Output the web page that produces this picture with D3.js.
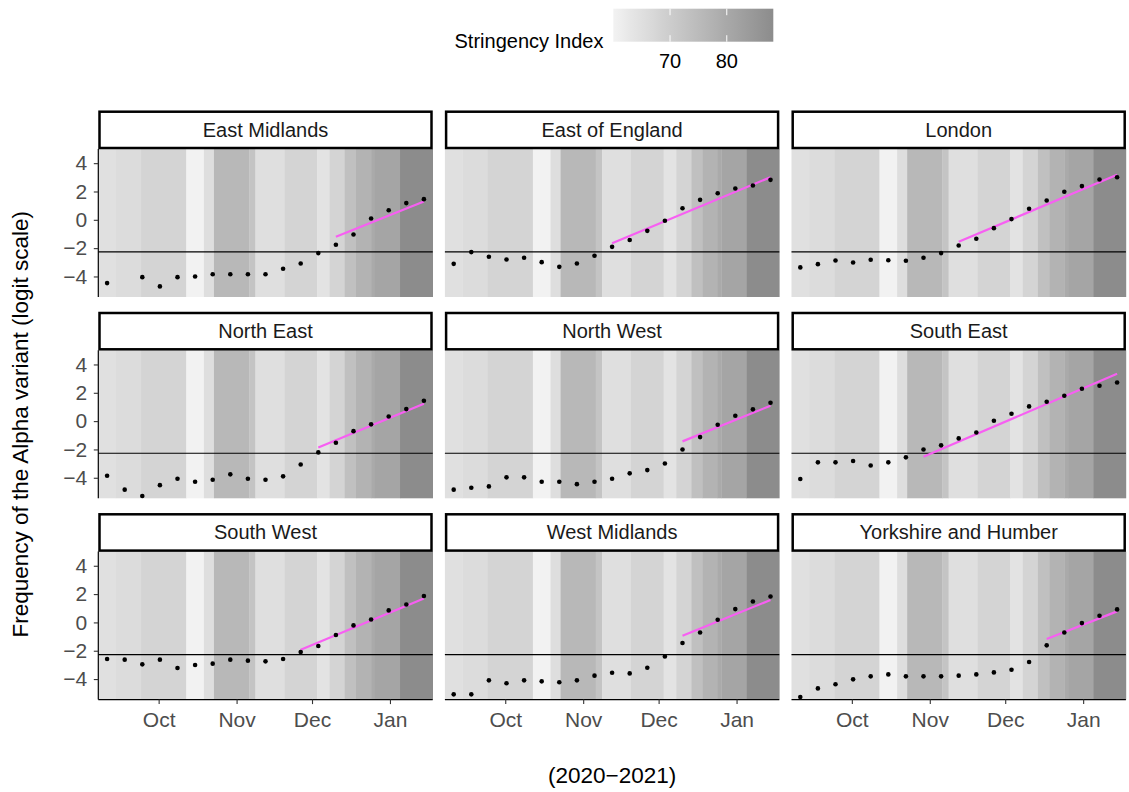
<!DOCTYPE html>
<html>
<head>
<meta charset="utf-8">
<script src="https://cdn.jsdelivr.net/npm/d3@7"></script>
<style>
  html, body { margin: 0; padding: 0; background: #ffffff; }
  svg { display: block; font-family: "Liberation Sans", Arial, sans-serif; }
</style>
</head>
<body>
<svg id="chart" width="1129" height="792"></svg>
<script>
// ---- data ----------------------------------------------------------------
const regions = [
  "East Midlands", "East of England", "London",
  "North East", "North West", "South East",
  "South West", "West Midlands", "Yorkshire and Humber"
];

// start of each sampling week (points sit at the middle of the week)
const weekStarts = [
  "2020-09-07", "2020-09-14", "2020-09-21", "2020-09-28", "2020-10-05",
  "2020-10-12", "2020-10-19", "2020-10-26", "2020-11-02", "2020-11-09",
  "2020-11-16", "2020-11-23", "2020-11-30", "2020-12-07", "2020-12-14",
  "2020-12-21", "2020-12-28", "2021-01-04", "2021-01-11"
];
const periodEnd = "2021-01-18";

// weekly frequency of the Alpha variant, logit scale (null = no sample)
const eastMidlands   = [-4.47, null, -4.05, -4.70, -4.05, -4.00, -3.84, -3.84, -3.84, -3.84, -3.46, -3.08, -2.35, -1.76, -1.04, 0.09, 0.68, 1.18, 1.46];
const eastOfEngland  = [-3.11, -2.28, -2.61, -2.80, -2.68, -2.99, -3.32, -3.08, -2.54, -1.91, -1.43, -0.78, -0.07, 0.82, 1.41, 1.88, 2.21, 2.42, 2.82];
const london         = [-3.36, -3.13, -2.87, -3.01, -2.82, -2.85, -2.89, -2.68, -2.35, -1.81, -1.34, -0.59, 0.05, 0.78, 1.36, 1.98, 2.38, 2.85, 3.01];
const northEast      = [-3.86, -4.84, -5.29, -4.52, -4.07, -4.28, -4.14, -3.76, -4.07, -4.14, -3.90, -3.06, -2.21, -1.53, -0.71, -0.23, 0.33, 0.85, 1.44];
const northWest      = [-4.84, -4.70, -4.61, -3.97, -3.97, -4.28, -4.28, -4.45, -4.28, -4.07, -3.69, -3.46, -2.99, -2.00, -1.13, -0.26, 0.38, 0.83, 1.30];
const southEast      = [-4.09, -2.91, -2.91, -2.82, -3.13, -2.91, -2.56, -2.00, -1.71, -1.22, -0.80, 0.03, 0.52, 1.04, 1.37, 1.79, 2.28, 2.50, 2.73];
const southWest      = [-2.58, -2.63, -2.96, -2.63, -3.22, -3.01, -2.91, -2.63, -2.70, -2.75, -2.58, -2.09, -1.67, -0.89, -0.21, 0.21, 0.85, 1.27, 1.86];
const westMidlands   = [-5.08, -5.08, -4.09, -4.30, -4.09, -4.16, -4.23, -4.09, -3.76, -3.55, -3.60, -3.20, -2.40, -1.45, -0.71, 0.19, 0.94, 1.48, 1.83];
const yorkshire      = [-5.27, -4.66, -4.37, -4.02, -3.81, -3.67, -3.81, -3.81, -3.81, -3.76, -3.67, -3.53, -3.34, -2.80, -1.62, -0.71, -0.05, 0.47, 0.92];
const regionValues = [eastMidlands, eastOfEngland, london, northEast, northWest, southEast, southWest, westMidlands, yorkshire];

// fitted growth line per region: first week of the fit, value there and at the last week
const fitStartWeek  = ["2020-12-07", "2020-11-09", "2020-11-09", "2020-11-30", "2020-12-07", "2020-10-26", "2020-11-23", "2020-12-07", "2020-12-14"];
const fitStartValue = [-1.20, -1.65, -1.55, -1.86, -1.43, -2.51, -1.93, -0.94, -1.17];
const fitEndValue   = [ 1.29,  3.01,  3.18,  1.23,  1.09,  3.34,  1.69,  1.58,  0.78];

// reference frequency (logit scale)
const thresholdLogit = -2.27;

// national stringency index, piecewise constant from each start date
const stringencyStart = [
  "2020-09-07", "2020-09-14", "2020-09-24", "2020-10-12", "2020-10-19",
  "2020-10-23", "2020-11-06", "2020-11-08T12:00", "2020-11-20", "2020-12-03",
  "2020-12-08", "2020-12-14", "2020-12-18T12:00", "2020-12-24T12:00", "2020-12-26",
  "2021-01-05"
];
const stringencyIndex = [64.8, 65.8, 68.0, 60.0, 65.3, 75.6, 72.3, 65.0, 68.0, 64.0, 68.0, 73.5, 77.1, 79.6, 81.0, 88.2];

const yTicks = [-4, -2, 0, 2, 4];
const xTickDates = ["2020-10-01", "2020-11-01", "2020-12-01", "2021-01-01"];
const xTickLabels = ["Oct", "Nov", "Dec", "Jan"];
const legendTicks = [70, 80];

// ---- layout --------------------------------------------------------------
const parse = s => new Date(s.length > 10 ? s : s + "T00:00");
const fmtNum = v => (v < 0 ? "\u2212" + Math.abs(v) : String(v));

const svg = d3.select("#chart");
const W = 1129, H = 792;
svg.append("rect").attr("width", W).attr("height", H).attr("fill", "#ffffff");

const panelW = 334.4, panelH = 148;
const colLeft = [98.3, 444.9, 791.5];
const rowTop = [149, 350.3, 551.6];
const stripH = 37.5;
const tickFont = 21, stripFont = 20, titleFont = 22.5, legendFont = 20;

const x = d3.scaleTime()
  .domain([parse(weekStarts[0]), parse(periodEnd)])
  .range([0, panelW]);
const y = d3.scaleLinear().domain([-5.45, 5.0]).range([panelH, 0]);

const idxExtent = d3.extent(stringencyIndex);
const fill = d3.scaleLinear()
  .domain(idxExtent)
  .range(["#f2f2f2", "#8c8c8c"])
  .interpolate(d3.interpolateLab);

const bands = stringencyStart.map((s, i) => ({
  start: parse(s),
  end: parse(i + 1 < stringencyStart.length ? stringencyStart[i + 1] : periodEnd),
  value: stringencyIndex[i]
}));

const midWeek = s => d3.timeHour.offset(parse(s), 84);

regions.forEach((name, k) => {
  const col = k % 3, row = Math.floor(k / 3);
  const g = svg.append("g").attr("transform", `translate(${colLeft[col]},${rowTop[row]})`);

  // stringency background
  g.append("g").selectAll("rect").data(bands).join("rect")
    .attr("x", d => x(d.start))
    .attr("width", d => x(d.end) - x(d.start) + 0.3)
    .attr("y", 0).attr("height", panelH)
    .attr("fill", d => fill(d.value));

  // reference line
  g.append("line")
    .attr("x1", 0).attr("x2", panelW)
    .attr("y1", y(thresholdLogit)).attr("y2", y(thresholdLogit))
    .attr("stroke", "#000").attr("stroke-width", 1.2);

  // fitted growth line
  g.append("line")
    .attr("x1", x(midWeek(fitStartWeek[k]))).attr("y1", y(fitStartValue[k]))
    .attr("x2", x(midWeek(weekStarts[weekStarts.length - 1]))).attr("y2", y(fitEndValue[k]))
    .attr("stroke", "#f75ff2").attr("stroke-width", 2.2);

  // weekly points
  const pts = weekStarts.map((s, i) => ({ t: midWeek(s), v: regionValues[k][i] }))
    .filter(d => d.v !== null);
  g.append("g").selectAll("circle").data(pts).join("circle")
    .attr("cx", d => x(d.t)).attr("cy", d => y(d.v)).attr("r", 2.3)
    .attr("fill", "#000");

  // facet strip
  const strip = svg.append("g").attr("transform", `translate(${colLeft[col]},${rowTop[row] - stripH - 1})`);
  strip.append("rect")
    .attr("x", 1.2).attr("y", 1.2)
    .attr("width", panelW - 2.4).attr("height", stripH - 1.2)
    .attr("fill", "#fff").attr("stroke", "#000").attr("stroke-width", 2.5);
  strip.append("text")
    .attr("x", panelW / 2).attr("y", stripH / 2 + 0.5)
    .attr("text-anchor", "middle").attr("dominant-baseline", "central")
    .attr("font-size", stripFont).attr("fill", "#1a1a1a")
    .text(name);

  // left axis on the first column
  if (col === 0) {
    const ya = g.append("g").call(d3.axisLeft(y).tickValues(yTicks).tickSize(4.5).tickPadding(6.5).tickFormat(fmtNum));
    ya.select(".domain").attr("stroke", "#000").attr("stroke-width", 1.2).attr("d", `M0,0V${panelH}`);
    ya.selectAll(".tick line").attr("stroke", "#333").attr("stroke-width", 1.1);
    ya.selectAll(".tick text").attr("font-size", tickFont).attr("fill", "#4d4d4d")
      .attr("font-family", "Liberation Sans, Arial, sans-serif");
  }
  // bottom axis on the last row
  if (row === 2) {
    const xa = g.append("g").attr("transform", `translate(0,${panelH})`)
      .call(d3.axisBottom(x).tickValues(xTickDates.map(parse)).tickSize(4.5).tickPadding(7.5)
        .tickFormat((d, i) => xTickLabels[i]));
    xa.select(".domain").attr("stroke", "#000").attr("stroke-width", 1.2).attr("d", `M0,0H${panelW}`);
    xa.selectAll(".tick line").attr("stroke", "#333").attr("stroke-width", 1.1);
    xa.selectAll(".tick text").attr("font-size", tickFont).attr("fill", "#4d4d4d")
      .attr("font-family", "Liberation Sans, Arial, sans-serif");
  }
});

// axis titles
svg.append("text")
  .attr("x", (colLeft[0] + colLeft[2] + panelW) / 2).attr("y", 775)
  .attr("text-anchor", "middle").attr("dominant-baseline", "central")
  .attr("font-size", titleFont).attr("fill", "#000")
  .text("(2020\u22122021)");
svg.append("text")
  .attr("transform", `translate(20,${(rowTop[0] + rowTop[2] + panelH) / 2}) rotate(-90)`)
  .attr("text-anchor", "middle").attr("dominant-baseline", "central")
  .attr("font-size", titleFont).attr("fill", "#000")
  .text("Frequency of the Alpha variant (logit scale)");

// ---- colour bar legend ---------------------------------------------------
const barX = 613.3, barY = 8.7, barW = 160, barH = 33;
const lx = d3.scaleLinear().domain(idxExtent).range([barX, barX + barW]);
const defs = svg.append("defs");
const grad = defs.append("linearGradient").attr("id", "stringencyGrad")
  .attr("x1", "0%").attr("x2", "100%").attr("y1", "0%").attr("y2", "0%");
d3.range(0, 1.0001, 0.05).forEach(f => {
  grad.append("stop").attr("offset", (f * 100) + "%")
    .attr("stop-color", fill(idxExtent[0] + f * (idxExtent[1] - idxExtent[0])));
});
svg.append("rect").attr("x", barX).attr("y", barY).attr("width", barW).attr("height", barH)
  .attr("fill", "url(#stringencyGrad)");
const lg = svg.append("g");
legendTicks.forEach(t => {
  lg.append("line").attr("x1", lx(t)).attr("x2", lx(t)).attr("y1", barY).attr("y2", barY + 6.5)
    .attr("stroke", "#fff").attr("stroke-width", 1);
  lg.append("line").attr("x1", lx(t)).attr("x2", lx(t)).attr("y1", barY + barH - 6.5).attr("y2", barY + barH)
    .attr("stroke", "#fff").attr("stroke-width", 1);
  lg.append("text").attr("x", lx(t)).attr("y", 61)
    .attr("text-anchor", "middle").attr("dominant-baseline", "central")
    .attr("font-size", legendFont).attr("fill", "#000").text(t);
});
svg.append("text").attr("x", 603.5).attr("y", 41)
  .attr("text-anchor", "end").attr("dominant-baseline", "central")
  .attr("font-size", legendFont).attr("fill", "#000").text("Stringency Index");
</script>
</body>
</html>
